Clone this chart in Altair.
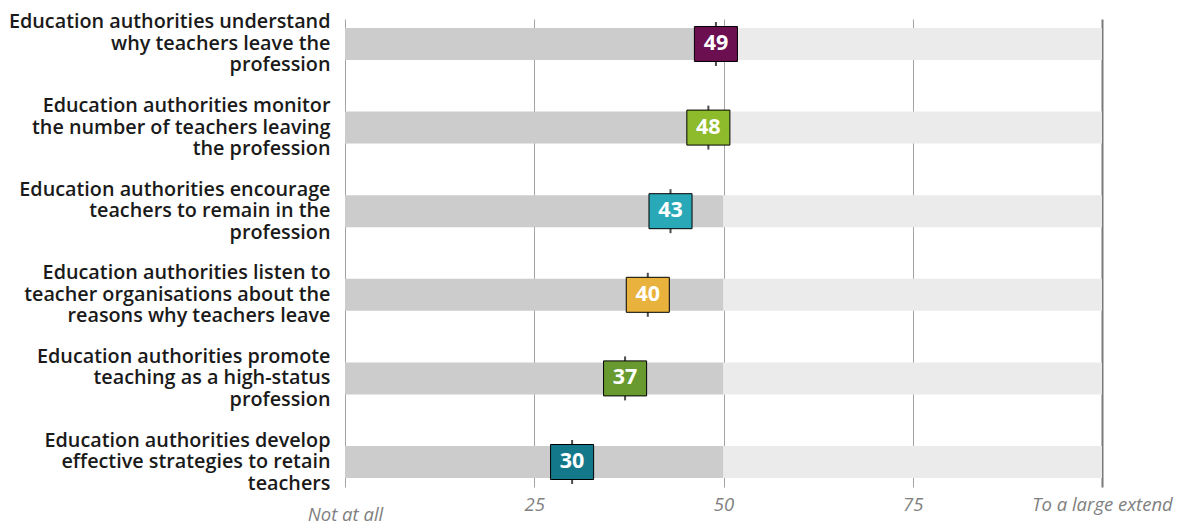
import altair as alt
import pandas as pd

# ---- data ----
categories = [
    ["Education authorities understand", "why teachers leave the", "profession"],
    ["Education authorities monitor", "the number of teachers leaving", "the profession"],
    ["Education authorities encourage", "teachers to remain in the", "profession"],
    ["Education authorities listen to", "teacher organisations about the", "reasons why teachers leave"],
    ["Education authorities promote", "teaching as a high-status", "profession"],
    ["Education authorities develop", "effective strategies to retain", "teachers"],
]
values = [49, 48, 43, 40, 37, 30]
box_colors = ["#6b0f50", "#8dbb2c", "#29a8b7", "#e8b23d", "#689a30", "#13798a"]
tick_values = [0, 25, 50, 75, 100]
tick_labels = ["Not at all", "25", "50", "75", "To a large extend"]
bg_starts = [0, 50]
bg_ends = [50, 100]
bg_tones = ["dark", "light"]
bg_colors = ["#cccccc", "#ebebeb"]

FONT = "Open Sans"

cat_keys = ["|".join(lines) for lines in categories]
df = pd.DataFrame({"cat": cat_keys, "value": values})
df_bg = pd.DataFrame(
    [{"cat": c, "start": s, "end": e, "tone": t}
     for c in cat_keys for s, e, t in zip(bg_starts, bg_ends, bg_tones)]
)

label_expr = "".join(
    f"datum.value === {v} ? '{l}' : " for v, l in zip(tick_values, tick_labels)
) + "datum.label"

x_scale = alt.Scale(domain=[tick_values[0], tick_values[-1]], nice=False)
x_axis = alt.Axis(
    title=None, values=tick_values, labelExpr=label_expr,
    domain=False, ticks=False, labelFlush=False, labelOverlap=False,
    labelFont=FONT, labelFontSize=18.5, labelFontStyle="italic", labelColor="#808080",
    labelPadding={"condition": {"test": "datum.value === 0", "value": 18}, "value": 8},
    grid=True,
    gridColor={"condition": {"test": "datum.value === 100", "value": "#7a7a7a"}, "value": "#a3a3a3"},
    gridWidth={"condition": {"test": "datum.value === 100", "value": 2}, "value": 1},
)
y_enc = alt.Y(
    "cat:N", sort=cat_keys, title=None,
    scale=alt.Scale(paddingInner=0.617, paddingOuter=0.1075),
    axis=alt.Axis(
        labelExpr="split(datum.label, '|')", domain=False, ticks=False,
        labelFont=FONT, labelFontSize=19.8, labelFontWeight=600, labelColor="#1a1a1a",
        labelPadding=15, labelLineHeight=21.5, labelLimit=500, labelOffset=-21.5,
    ),
)

bg = alt.Chart(df_bg).mark_bar().encode(
    x=alt.X("start:Q", scale=x_scale, axis=x_axis),
    x2="end:Q",
    y=y_enc,
    color=alt.Color("tone:N", scale=alt.Scale(domain=bg_tones, range=bg_colors), legend=None),
)

base = alt.Chart(df).encode(
    x=alt.X("value:Q", scale=x_scale),
    y=alt.Y("cat:N", sort=cat_keys),
)

stems = base.mark_tick(orient="vertical", size=44, thickness=2, color="#000000")

box_path = "M-1.23,-1L1.23,-1L1.23,1L-1.23,1Z"
boxes = base.mark_point(
    shape=box_path, size=1225, filled=True, opacity=1, stroke="#000000", strokeWidth=1
).encode(
    fill=alt.Fill("cat:N", sort=cat_keys,
                  scale=alt.Scale(domain=cat_keys, range=box_colors), legend=None),
)

labels = base.mark_text(
    font=FONT, fontSize=21.5, fontWeight="bold", color="#ffffff", baseline="middle", align="center"
).encode(text=alt.Text("value:Q"))

chart = (
    alt.layer(bg, stems, boxes, labels)
    .properties(width=757, height=468, padding={"top": 3, "left": 0, "right": 5, "bottom": 0})
    .configure_view(stroke=None)
)

chart.save("out.html", embed_options={"renderer": "svg", "actions": False})
